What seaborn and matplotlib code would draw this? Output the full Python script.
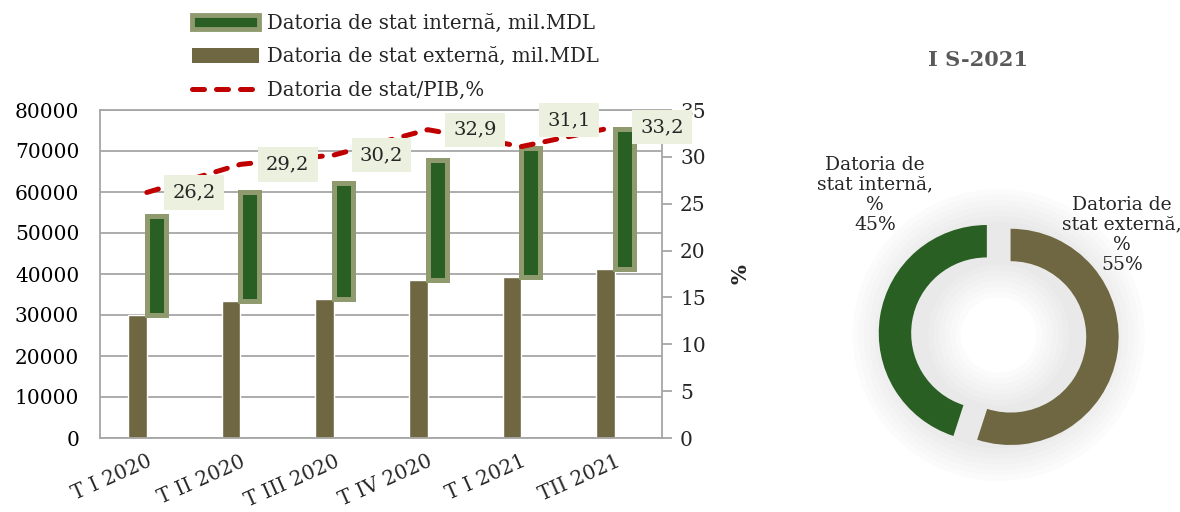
import matplotlib
matplotlib.use("Agg")
import matplotlib.pyplot as plt
from matplotlib.patches import Patch
from matplotlib.lines import Line2D
import pandas as pd
import seaborn as sns

# ------------------------------------------------------------
# Data
# ------------------------------------------------------------
trimestre = ["T I 2020", "T II 2020", "T III 2020", "T IV 2020", "T I 2021", "TII 2021"]
datoria_externa = [30100, 33400, 33900, 38500, 39300, 41100]
datoria_interna = [24000, 26500, 28300, 29300, 31500, 34200]
datoria_pib = [26.2, 29.2, 30.2, 32.9, 31.1, 33.2]

structura_labels = ["Datoria de\nstat internă,\n%", "Datoria de\nstat externă,\n%"]
structura_vals = [45, 55]

lbl_int = "Datoria de stat internă, mil.MDL"
lbl_ext = "Datoria de stat externă, mil.MDL"
lbl_pib = "Datoria de stat/PIB,%"

# colours
c_ext = "#6F6741"
c_int = "#2A5F24"
c_int_edge = "#8F9B6E"
c_red = "#C00000"
c_box = "#EBF1DE"
c_grid = "#A6A6A6"
dash = (0, (2.4, 2.4))

sns.set_theme(style="white")
plt.rcParams["font.family"] = ["DejaVu Serif"]

df = pd.DataFrame({
    "trim": trimestre * 2,
    "tip": ["ext"] * len(trimestre) + ["int"] * len(trimestre),
    "val": datoria_externa + datoria_interna,
})

fig = plt.figure(figsize=(11.8, 5.12), dpi=100)

# ------------------------------------------------------------
# Bars + line
# ------------------------------------------------------------
ax = fig.add_axes([100 / 1180, 74 / 512, 562 / 1180, 328 / 512])

sns.barplot(
    data=df, x="trim", y="val", hue="tip",
    hue_order=["ext", "int"], palette=[c_ext, c_int],
    width=0.4, saturation=1, legend=False, ax=ax
)

# internal debt floats on top of the external one
for bar, base in zip(ax.containers[1], datoria_externa):
    bar.set_y(base)
    bar.set_edgecolor(c_int_edge)
    bar.set_linewidth(3.6)
    bar.set_zorder(3)

ax.set_ylim(0, 80000)
ax.set_yticks(range(0, 80001, 10000))
ax.set_xlim(-0.5, len(trimestre) - 0.5)
ax.yaxis.grid(True, color=c_grid, linewidth=1.3)
ax.set_axisbelow(True)
ax.set_xlabel("")
ax.set_ylabel("")
for s in ax.spines.values():
    s.set_color(c_grid)
    s.set_linewidth(1.3)
ax.tick_params(axis="y", length=0, labelsize=14.5, pad=15, labelcolor="black")
ax.tick_params(axis="x", length=0, labelsize=14.5, pad=10)
for t in ax.get_xticklabels():
    t.set_rotation(24)
    t.set_ha("right")
    t.set_rotation_mode("anchor")

ax2 = ax.twinx()
sns.lineplot(x=list(range(len(trimestre))), y=datoria_pib, ax=ax2,
             color=c_red, linewidth=3.6, legend=False)
for ln in ax2.lines:
    ln.set_linestyle(dash)
    ln.set_dash_capstyle("round")
ax2.set_ylim(0, 35)
ax2.set_yticks(range(0, 36, 5))
ax2.tick_params(axis="y", length=7, width=1.3, color=c_grid, labelsize=14.5, pad=6)
ax2.set_ylabel("%", fontsize=15, fontweight="bold", rotation=90, labelpad=18)
for s in ax2.spines.values():
    s.set_visible(False)

label_dy = [0, 0, 0, 0, 19, 0]
for i, (p, dy) in enumerate(zip(datoria_pib, label_dy)):
    ax2.annotate(f"{p:.1f}".replace(".", ","), (i, p),
                 xytext=(34, dy), textcoords="offset points",
                 ha="center", va="center", fontsize=14, zorder=5,
                 bbox=dict(boxstyle="square,pad=0.42", fc=c_box, ec="none"))

handles = [
    Patch(facecolor=c_int, edgecolor=c_int_edge, linewidth=3.5),
    Patch(facecolor=c_ext, edgecolor="none"),
    Line2D([0], [0], color=c_red, linewidth=3.6, linestyle=dash,
           dash_capstyle="round"),
]
fig.legend(handles, [lbl_int, lbl_ext, lbl_pib], loc="upper left",
           bbox_to_anchor=(192 / 1180, 1 - 14 / 512), frameon=False,
           fontsize=14.2, handlelength=3.4, handleheight=0.75,
           handletextpad=0.4, labelspacing=0.72, borderpad=0, borderaxespad=0)

# ------------------------------------------------------------
# Donut
# ------------------------------------------------------------
axp = fig.add_axes([838.7 / 1180, 17 / 512, 320 / 1180, 320 / 512])

# soft shadow
for k in range(7):
    d = 0.05 * (k + 1)
    axp.pie([1], radius=1 + d, colors=["#7F7F7F"],
            wedgeprops=dict(width=0.30 + 2 * d, edgecolor="none", alpha=0.025))

axp.pie(structura_vals, colors=[c_int, c_ext], startangle=90,
        explode=[0.111, 0.111], radius=1,
        wedgeprops=dict(width=0.30, edgecolor="none"))

lbl_pos = [(-1.145, 1.296), (1.142, 0.926)]
for (tx, ty), lab, v in zip(lbl_pos, structura_labels, structura_vals):
    axp.text(tx, ty, f"{lab}\n{v}%", ha="center", va="center",
             fontsize=13.5, linespacing=1.15)

axp.set_xlim(-1.48, 1.48)
axp.set_ylim(-1.48, 1.48)
axp.set_aspect("equal")
axp.axis("off")

fig.text(978 / 1180, 1 - 60 / 512, "I S-2021", ha="center", va="center",
         fontsize=15, fontweight="bold", color="#595959")

fig.savefig("out.png", dpi=100)
